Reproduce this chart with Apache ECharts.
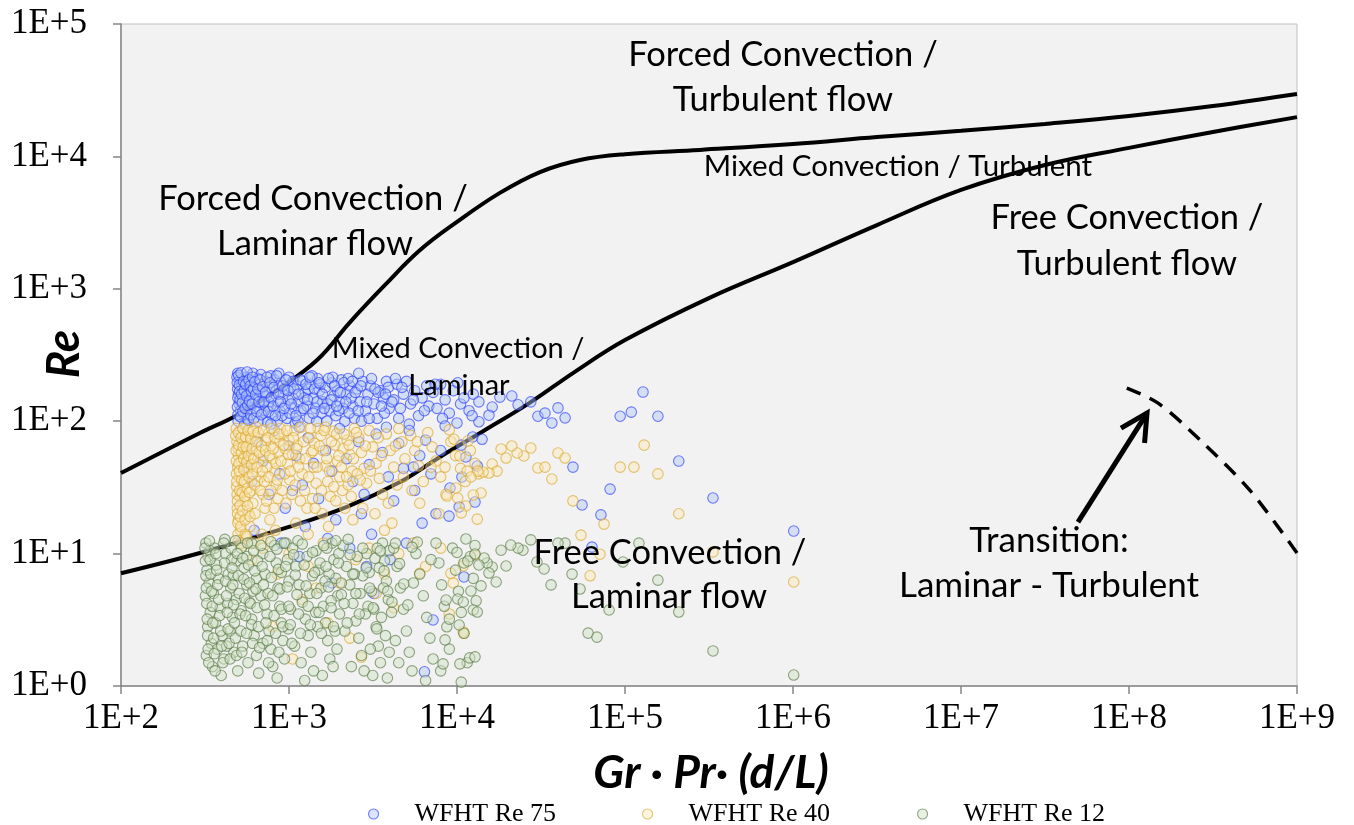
<!DOCTYPE html>
<html>
<head>
<meta charset="utf-8">
<title>Re vs Gr·Pr·(d/L) flow regime map</title>
<script src="https://cdn.jsdelivr.net/npm/echarts@6/dist/echarts.min.js"></script>
<style>
  html, body { margin: 0; padding: 0; background: #ffffff; }
  #chart { width: 1354px; height: 825px; }
</style>
</head>
<body>
<div id="chart"></div>
<script>
// ---- axis ticks ----
const xTicks = [1e2, 1e3, 1e4, 1e5, 1e6, 1e7, 1e8, 1e9];
const yTicks = [1e0, 1e1, 1e2, 1e3, 1e4, 1e5];

// ---- regime boundaries [Gr·Pr·(d/L), Re] ----
const forcedMixedBoundary = [
  [100, 40.6], [295, 81.5], [490, 111], [849, 172], [1470, 290], [2310, 561],
  [3730, 1070], [6030, 1960], [10000, 3200], [18000, 5300], [31200, 7620],
  [54000, 9400], [100000, 10400], [279000, 11200], [1e6, 12400], [3.16e6, 14000],
  [1e7, 15600], [3.16e7, 17600], [1e8, 20200], [3.16e8, 24000], [1e9, 29600]
];
const mixedFreeBoundary = [
  [100, 7.1], [295, 10.1], [1000, 15.9], [2210, 22.5], [4580, 34.7], [7920, 53.7],
  [14300, 84], [27200, 138], [50000, 235], [1e5, 410], [316000, 851], [1e6, 1590],
  [3.16e6, 3030], [1e7, 5580], [3.16e7, 8610], [1e8, 11600], [3.16e8, 15300], [1e9, 19800]
];
const transitionLine = [
  [9.7e7, 178], [1.49e8, 137], [2.65e8, 72], [5.25e8, 30], [1e9, 10.1]
];
const transitionArrow = { from: [4.97e7, 17.3], to: [1.28e8, 115] };

// ---- measurements: WFHT Re 75 ----
const re75Points = [
  [495,230],[510,205],[520,180],[500,160],[530,150],[505,135],[515,120],[540,110],[498,100],[525,190],
  [560,215],[575,175],[550,140],[590,125],[565,105],[600,200],[585,160],[545,95],[610,230],[620,145],
  [640,190],[655,210],[670,170],[690,135],[700,115],[660,100],[720,200],[735,155],[750,130],[765,180],
  [780,220],[795,110],[630,125],[705,160],[745,98],[680,225],[760,140],[715,120],
  [820,205],[840,170],[860,140],[880,120],[900,195],[925,160],[950,130],[975,105],[1000,215],[1020,180],
  [1050,150],[1080,125],[850,100],[910,110],[990,145],[1060,200],[870,230],[940,175],[1010,115],[1090,97],
  [1120,185],[1150,140],[1180,120],[1210,200],[1250,165],[1280,130],[1320,105],[1350,190],[1400,150],[1440,125],
  [1480,210],[1520,170],[1560,115],[1590,140],[1130,100],[1230,150],[1370,220],[1460,100],[1300,175],[1540,190],
  [1650,180],[1700,135],[1750,120],[1800,195],[1850,155],[1900,110],[1950,170],[2000,140],[2050,205],[2100,125],
  [2200,160],[2300,185],[2400,130],[2450,105],[1680,100],[1820,215],[2150,100],[2350,150],[1980,120],[2250,210],
  [2550,175],[2650,140],[2750,200],[2850,120],[2950,160],[3050,185],[3200,135],[3350,105],[3500,170],[3650,150],
  [3800,200],[3950,125],[2700,100],[3100,210],[3400,165],[3700,115],[2600,230],[3900,180],
  [4200,145],[4400,190],[4600,125],[4800,160],[5000,200],[5300,135],[5600,170],[5900,110],[6200,150],[6600,185],
  [4500,105],[5200,95],[6800,130],[4300,210],
  [7200,165],[7600,125],[8000,190],[8500,145],[9000,115],[9500,170],[10100,195],[10500,135],[11000,150],[11800,120],
  [12500,160],[8200,105],[13500,140],
  [490,215],[492,195],[494,175],[496,150],[493,128],[497,112],[502,222],[506,188],[508,168],[511,145],
  [514,108],[518,232],[522,160],[527,138],[532,118],[536,200],[542,170],[548,125],[553,190],[558,155],
  [563,235],[568,132],[572,102],[578,205],[582,142],[588,185],[593,112],[597,168],[603,135],[607,215],
  [613,175],[618,105],[625,198],[633,158],[645,118],[652,175],[662,140],[673,205],[684,112],[695,182],
  [710,140],[725,165],[740,215],[755,118],[770,195],[785,150],[805,130],[815,180],[830,110],[845,220],
  [865,160],[890,140],[915,185],[935,125],[960,205],[985,170],[1030,135],[1070,175],[1100,110],[1140,160],
  [1170,205],[1220,125],[1260,190],[1290,145],[1330,215],[1390,115],[1420,175],[1470,140],[1510,195],[1580,160],
  [1620,125],[1720,210],[1780,145],[1870,185],[1920,130],[2020,165],[2120,195],[2180,140],[2280,115],[2380,200],
  [2480,165],[2580,120],[2680,185],[2900,140],[3000,105],[3250,175],[3550,130],[3750,160],[4100,140],[4700,180],
  [5500,145],[6400,120],[7400,190],
  [21200,155],[23100,133],[27500,140],[30300,109],[33400,115],[36700,97],[39900,126],[44000,106],[18000,152],[16200,128],
  [15500,111],[13500,99],[12300,110],[10000,97],[8500,92],[93600,109],[109000,117],[128000,166],[157000,109],[209000,50],
  [334000,26.3],[1.01e6,14.8],[81500,30.7],[55500,23.3],[71900,19.6],[63600,11.2],[49000,45],[12400,76],[14100,73],[10600,66],
  [11300,53.7],[13200,45.9],[10700,37.9],[9080,31.3],[12800,24.5],[10300,22.5],[8960,19.2],[11000,6.66],
  [520,80],[560,60],[540,45],[600,35],[650,70],[700,50],[760,28],[820,85],[880,40],[950,22],
  [1000,65],[1100,55],[1200,33],[1300,75],[1400,48],[1500,26],[1650,60],[1800,42],[1900,18],[2000,88],
  [2200,52],[2400,35],[2600,70],[2800,28],[3000,47],[3300,80],[3600,58],[3900,38],[4200,25],[4500,68],
  [4800,44],[5200,85],[5600,30],[6000,55],[6500,72],[7000,40],[7500,20],[8000,60],[620,15],[900,12],
  [1250,16],[1700,13],[2300,11],[3100,14],[4000,9],[5000,12],[6200,17],[2900,8],[1150,90],[780,95],
  [3800,90],[2700,20],[5500,45],[1050,30],[1150,9.5],[1800,6],[3200,5],[6400,1.28],[7200,3.15]
];

// ---- measurements: WFHT Re 40 ----
const re40Points = [
  [485,88],[490,70],[500,55],[495,45],[505,38],[488,32],[510,27],[492,22],[500,18],[515,15],
  [530,80],[545,62],[520,50],[560,40],[535,33],[550,25],[575,20],[590,85],[580,68],[595,52],
  [570,44],[600,30],[555,13],[585,16],[525,72],[565,58],[498,62],[512,84],
  [620,78],[640,60],[660,48],[680,38],[700,28],[720,22],[640,90],[760,82],[780,65],[800,52],
  [820,42],[840,33],[860,26],[880,70],[650,35],[700,55],[740,45],[770,18],[830,15],[890,88],
  [610,24],[730,72],[860,58],[690,14],
  [920,80],[950,62],[980,48],[1010,36],[1040,28],[1080,85],[1120,66],[1160,52],[1200,40],[1240,30],
  [1280,22],[1320,75],[1360,58],[1400,45],[1450,34],[1490,88],[960,24],[1100,17],[1300,14],[1420,68],
  [1000,72],[1180,90],[1380,26],[1050,56],
  [1550,78],[1600,60],[1650,46],[1700,35],[1760,27],[1820,84],[1880,66],[1940,50],[2000,38],[2080,30],
  [2150,22],[2220,72],[2300,56],[2380,42],[2450,88],[1580,20],[1720,16],[2100,62],[1900,25],[2250,33],
  [1650,90],[2400,18],
  [2600,75],[2700,58],[2800,44],[2900,34],[3000,85],[3150,64],[3300,48],[3450,37],[3600,28],[3800,80],
  [4000,60],[4200,45],[4400,33],[4700,70],[4900,52],[2750,22],[3250,20],[3900,24],[4500,88],[2550,40],
  [3700,15],[4100,17],
  [5300,78],[5600,60],[5900,46],[6300,35],[6700,82],[7100,64],[7500,50],[8000,38],[8600,28],[9200,70],
  [9800,55],[10500,44],[11200,35],[12000,60],[12800,48],[6000,24],[7800,20],[5400,30],[9000,86],[13500,40],
  [482,78],[484,60],[486,50],[487,40],[489,35],[491,28],[493,25],[494,20],[496,17],[497,14],
  [499,82],[502,66],[504,48],[507,42],[509,30],[511,23],[513,19],[516,16],[518,75],[521,58],
  [523,36],[526,29],[528,21],[531,88],[533,64],[537,52],[539,43],[542,35],[544,27],[547,18],
  [549,14],[552,76],[557,64],[561,49],[564,31],[567,23],[571,85],[574,55],[578,38],[582,29],
  [587,19],[592,74],[598,47],[603,62],[607,40],[612,84],[617,52],[623,33],[628,20],[635,70],
  [645,45],[655,82],[665,58],[675,30],[685,65],[695,42],[705,86],[715,35],[725,60],[735,25],
  [748,75],[758,38],[768,55],[778,30],[790,88],[805,62],[815,22],[825,75],[835,48],[850,36],
  [870,80],[895,50],[910,30],[930,66],[945,40],[970,85],[995,56],[1020,42],[1060,75],[1090,33],
  [1110,62],[1140,45],[1170,25],[1220,70],[1260,52],[1310,38],[1340,88],[1390,60],[1430,22],[1470,45],
  [1520,65],[1560,30],[1620,85],[1680,52],[1740,42],[1790,70],[1850,32],[1920,80],[1980,55],[2050,45],
  [2130,80],[2200,38],[2280,66],[2350,27],[2420,52],[2520,82],[2650,36],[2850,65],[3050,42],[3400,75],
  [3550,55],[4300,65],[4800,38],[5800,70],[7000,45],[500,12.5],[530,11.5],[560,13.5],[620,12],[750,13],
  [520,12],[600,9],[700,11],[850,7],[1000,10],[1300,8],[1600,12],[2000,6],[2500,9],[3000,11],
  [3700,7],[4500,10],[5500,12],[6500,8],[8000,11],[9500,6],[1200,4.5],[1700,3],[2300,2.3],[2700,1.65],
  [1050,1.6],[4200,3.9],[6000,7.1],[11000,2.5],[3300,5],[800,2.8],[1450,5.5],[9000,3.5],
  [130000,66],[93600,45],[113000,45],[157000,40],[209000,20],[75000,16.7],[54700,13.8],[49000,25],[36700,36.6],[39900,57.5],
  [44000,52.7],[30300,44.3],[33400,45],[27500,62.8],[25000,54.6],[22800,57.5],[21200,65],[19600,52.7],[18300,61.7],[16200,47.5],
  [17300,42],[15500,40.6],[14300,41.3],[13300,42],[11500,42],[12100,37.9],[13900,28.7],[12500,27.7],[11300,22.9],[13200,18.2],
  [10100,26.3],[9860,31.3],[8710,27.2],[10600,20.3],[9590,73],[11600,70.8],[10400,54.6],[8490,45],[334000,10.3],[1.01e6,6.1],
  [62000,6.8],[71000,9.9],[9200,7.1],[10900,8.1],[10900,2.56],[12800,9.8]
];

// ---- measurements: WFHT Re 12 ----
const re12Points = [
  [320,12],[330,9.5],[325,7.5],[335,6],[318,4.8],[340,3.6],[328,2.8],[345,2.1],[322,1.7],[350,1.4],
  [360,11],[370,8.2],[380,6.5],[355,5],[390,3.9],[365,3],[400,2.4],[375,1.9],[410,1.6],[395,1.2],
  [420,10],[435,7],[450,5.5],[430,4.2],[460,3.3],[445,2.6],[470,1.8],[480,12.5],[490,8.8],[465,6.8],
  [485,4.5],[495,1.3],[455,9],[415,12.8],[338,10.5],[425,2],
  [520,11],[540,7.8],[560,5.8],[580,4.3],[600,3.2],[620,2.4],[640,1.7],[660,1.25],[560,9.5],[600,12],
  [640,6.5],[680,4.8],[700,10],[720,7],[740,3.5],[760,2.6],[780,1.9],[800,1.4],[820,11.5],[840,8.5],
  [860,5.5],[880,4],[900,3],[920,2.2],[940,1.6],[960,12],[980,9],[1000,6.2],[530,2],[570,1.5],
  [650,8.8],[750,5],[850,1.15],[900,7.2],[700,2.1],[520,3.7],[610,5.2],[990,2.7],[780,12.3],[870,1.8],
  [1050,11],[1100,8],[1150,5.8],[1200,4.3],[1250,3.2],[1300,2.4],[1350,1.8],[1400,1.3],[1450,10.5],[1500,7.5],
  [1550,5.5],[1600,4],[1650,3],[1700,2.2],[1750,1.6],[1800,12],[1850,9],[1900,6.5],[1950,4.8],[2000,3.5],
  [1080,2],[1180,1.5],[1280,9.5],[1380,6.8],[1480,2.8],[1580,1.2],[1680,11],[1780,4.4],[1880,2.6],[1130,12.5],
  [1330,5],[1530,8.5],[1730,7],[1930,1.9],[1020,3.8],[1240,1.1],[1440,3.6],[1640,6.2],[1830,1.4],[1980,10],
  [2100,11.5],[2200,8],[2300,5.8],[2400,4.2],[2500,3.1],[2600,2.3],[2700,1.7],[2800,1.3],[2900,10],[3000,7.2],
  [3100,5.2],[3200,3.8],[3300,2.8],[3400,2],[3500,1.5],[3600,12],[3700,8.8],[3800,6.2],[3900,4.5],[2150,2.6],
  [2350,1.4],[2550,9.5],[2750,6.8],[2950,4],[3150,1.2],[3350,11],[3550,3.3],[3750,2.4],[3950,1.8],[2250,12.8],
  [2450,7],[2650,5],[2850,3.5],[3050,1.9],[3450,7.8],[3650,5.5],[3850,1.15],[2050,4.9],[3250,9.2],[3950,10.5],
  [4200,11],[4400,8],[4600,5.5],[4800,3.8],[5000,2.6],[5200,1.8],[5400,1.3],[5700,10],[6000,7],[6300,4.8],
  [6600,3.3],[6900,2.3],[7200,1.6],[7500,12],[7800,8.5],[8100,5.8],[8400,4],[8700,2.8],[9000,1.9],[9400,11],
  [9800,7.5],[10200,5.2],[10600,3.6],[11000,2.5],[11500,1.5],[12000,9.5],[12500,6.5],[13000,4.4],[4500,1.5],[5500,6],
  [6500,1.1],[7000,9],[8000,1.3],[9000,3.2],[10000,10.2],[11000,8.5],[4100,4.3],[5800,12.2],[4300,2.2],[12800,11.5],
  [316,11],[318,8.8],[320,6.8],[322,5.5],[324,4.2],[326,3.2],[328,2.4],[330,1.9],[333,1.5],[336,12.5],
  [339,9],[342,7],[346,5.2],[349,4],[352,3],[356,2.3],[359,1.75],[363,1.3],[367,10],[371,7.5],
  [376,5.8],[381,4.5],[386,3.4],[392,2.6],[398,2],[404,1.5],[409,12],[414,8.5],[419,6.2],[424,4.8],
  [429,3.6],[434,2.7],[440,2.1],[446,1.6],[452,11],[458,7.8],[463,5.8],[468,4.1],[474,3],[480,2.3],
  [487,1.7],[493,10],[499,6.8],[505,5],[511,3.5],[517,2.6],[524,1.8],[531,9.2],[538,6.4],[545,4.6],
  [552,3.4],[559,2.5],[566,12],[574,8.2],[582,6],[590,4.2],[598,2.9],[607,2.1],[616,10.5],[626,7.4],
  [636,5.4],[646,3.9],[657,2.8],[668,1.95],[680,11.5],[692,8],[704,5.8],[716,4.1],[729,3],[742,2.2],
  [756,1.5],[770,9.5],[785,6.6],[800,4.8],[815,3.4],[832,2.5],[848,10.8],[865,7.6],[882,5.4],[900,3.8],
  [918,2.8],[937,12],[956,8],[976,5.6],[997,4],[1018,2.9],[1040,2.1],[1065,9.8],[1090,6.9],[1115,4.9],
  [1140,3.5],[1170,2.5],[1200,11.8],[1230,8.2],[1265,5.7],[1300,4],[1340,2.9],[1380,10.2],[1420,7.2],[1465,5],
  [1510,3.6],[1560,2.5],[1610,11.5],[1660,8],[1720,5.6],[1780,3.9],[1840,2.8],[1900,12.5],[1970,8.5],[2050,6],
  [2130,4.2],[2220,3],[2310,9.8],[2400,7],[2500,5],[2620,3.5],[2750,11],[2880,7.8],[3020,5.5],[3170,3.9],
  [3330,2.7],[3500,10.5],[3680,7.4],[3870,5.2],[4080,3.6],[4300,12],[4550,8.4],[4820,5.9],[5100,4.1],[5400,11.2],
  [121000,12],[97300,8.64],[157000,6.3],[209000,3.62],[334000,1.84],[1.01e6,1.21],[60300,2.51],[68100,2.34],[80400,3.75],[54000,5.4],
  [48400,7.0],[36300,5.8],[33000,7.65],[29900,8.64],[44000,12],[39900,12],[27500,12.7],[24700,10.6],[23100,11],[20900,11.6],
  [18300,10.6],[19600,8.06],[16200,7.92],[15100,8.5],[14500,9.27],[15500,7.13],[17100,6.1],[13900,5.7],[12100,5.22],[11300,12.9],
  [12800,9.93],[13500,8.2],[11600,8.8],[10100,4.54],[10900,4.31],[12500,3.75],[13200,3.62],[8610,4.46],[10300,2.89],[8490,2.23],
  [11900,1.63],[12800,1.66],[10400,1.47],[8260,1.47],[10600,1.07]
];

const seriesNames = ['WFHT Re 75', 'WFHT Re 40', 'WFHT Re 12'];
const seriesFill = ['rgba(175,198,245,0.55)', 'rgba(250,232,185,0.55)', 'rgba(208,226,198,0.6)'];
const seriesStroke = ['rgba(40,60,255,0.82)', 'rgba(220,168,45,0.85)', 'rgba(88,120,68,0.82)'];

const chart = echarts.init(document.getElementById('chart'), null, { renderer: 'canvas' });

const serif = '"Liberation Serif", "Times New Roman", serif';
const noteFont = '"Lato", "Carlito", "Noto Sans", sans-serif';
const expLabel = v => '1E+' + Math.round(Math.log10(v));

function scatterSeries(i, data) {
  return {
    name: seriesNames[i], type: 'scatter', data, symbol: 'circle', symbolSize: 10.5, z: 3,
    itemStyle: { color: seriesFill[i], borderColor: seriesStroke[i], borderWidth: 1.1 },
    emphasis: { disabled: true }
  };
}

// one legend block per series so each entry sits at its own spot
const legendLeft = [368, 642, 917];
const legends = seriesNames.map((name, i) => ({
  data: [name], left: legendLeft[i], top: 801, padding: 0,
  itemWidth: 10, itemHeight: 10, icon: 'circle',
  itemStyle: { color: seriesFill[i], borderColor: seriesStroke[i], borderWidth: 1.1 },
  textStyle: { fontFamily: serif, fontSize: 26, color: '#000', padding: [0, 0, 0, 31] }
}));

const axisCommon = {
  type: 'log', logBase: 10,
  axisLine: { show: true, onZero: false, lineStyle: { color: '#868686', width: 1.5 } },
  axisTick: { show: true, inside: false, length: 8, lineStyle: { color: '#868686', width: 1.5 } },
  splitLine: { show: false },
  minorTick: { show: false }
};

const option = {
  animation: false,
  backgroundColor: '#ffffff',
  grid: {
    left: 121, right: 57, top: 24, bottom: 139,
    show: true, backgroundColor: '#f2f2f2', borderColor: '#c0c0c0', borderWidth: 1
  },
  xAxis: Object.assign({}, axisCommon, {
    min: xTicks[0], max: xTicks[xTicks.length - 1], splitNumber: 7,
    axisLabel: { margin: 15, formatter: expLabel, fontFamily: serif, fontSize: 35, color: '#000' }
  }),
  yAxis: Object.assign({}, axisCommon, {
    min: yTicks[0], max: yTicks[yTicks.length - 1], splitNumber: 5,
    axisLabel: { margin: 34, formatter: expLabel, fontFamily: serif, fontSize: 35, color: '#000' }
  }),
  legend: legends,
  series: [
    {
      name: 'forced-mixed', type: 'line', data: forcedMixedBoundary, smooth: 0.4,
      showSymbol: false, z: 2, lineStyle: { color: '#000', width: 4 }, silent: true
    },
    {
      name: 'mixed-free', type: 'line', data: mixedFreeBoundary, smooth: 0.4,
      showSymbol: false, z: 2, lineStyle: { color: '#000', width: 4 }, silent: true
    },
    {
      name: 'transition', type: 'line', data: transitionLine, smooth: 0.3,
      showSymbol: false, z: 2, lineStyle: { color: '#000', width: 3.5, type: [15, 10] }, silent: true
    },
    scatterSeries(0, re75Points),
    scatterSeries(1, re40Points),
    scatterSeries(2, re12Points)
  ]
};

chart.setOption(option);

// ---- annotations ----
function note(text, x, y, size) {
  return {
    type: 'text', x, y, z: 10,
    style: { text, font: size + 'px ' + noteFont, fill: '#000', textAlign: 'center', textVerticalAlign: 'middle' }
  };
}

const tail = chart.convertToPixel({ gridIndex: 0 }, transitionArrow.from);
const tip = chart.convertToPixel({ gridIndex: 0 }, transitionArrow.to);
const ang = Math.atan2(tip[1] - tail[1], tip[0] - tail[0]);
const headLen = 30, headSpread = Math.PI / 6.5;
const headA = [tip[0] - headLen * Math.cos(ang - headSpread), tip[1] - headLen * Math.sin(ang - headSpread)];
const headB = [tip[0] - headLen * Math.cos(ang + headSpread), tip[1] - headLen * Math.sin(ang + headSpread)];

chart.setOption({
  graphic: [
    note('Forced Convection /', 783, 55, 34.5),
    note('Turbulent flow', 783, 100, 34.5),
    note('Forced Convection /', 313, 199, 34.5),
    note('Laminar flow', 315, 244, 34.5),
    note('Mixed Convection / Turbulent', 898, 166, 29.5),
    note('Free Convection /', 1127, 218, 34.5),
    note('Turbulent flow', 1127, 264, 34.5),
    note('Mixed Convection /', 458, 349, 29),
    note('Laminar', 459, 386, 29),
    note('Free Convection /', 670, 553, 34.5),
    note('Laminar flow', 669, 597, 34.5),
    note('Transition:', 1049, 541, 35),
    note('Laminar - Turbulent', 1049, 586, 35),
    {
      type: 'text', z: 10, x: 64, y: 354, rotation: Math.PI / 2,
      style: { text: 'Re', font: 'italic bold 46px ' + noteFont, fill: '#000', textAlign: 'center', textVerticalAlign: 'middle' }
    },
    {
      type: 'text', z: 10, x: 711, y: 773,
      style: { text: 'Gr · Pr· (d/L)', font: 'italic bold 46px ' + noteFont, fill: '#000', textAlign: 'center', textVerticalAlign: 'middle' }
    },
    {
      type: 'polyline', z: 9,
      shape: { points: [tail, tip] },
      style: { stroke: '#000', lineWidth: 5, fill: null }
    },
    {
      type: 'polyline', z: 9,
      shape: { points: [headA, tip, headB] },
      style: { stroke: '#000', lineWidth: 5, fill: null, lineJoin: 'miter' }
    }
  ]
});
</script>
</body>
</html>
